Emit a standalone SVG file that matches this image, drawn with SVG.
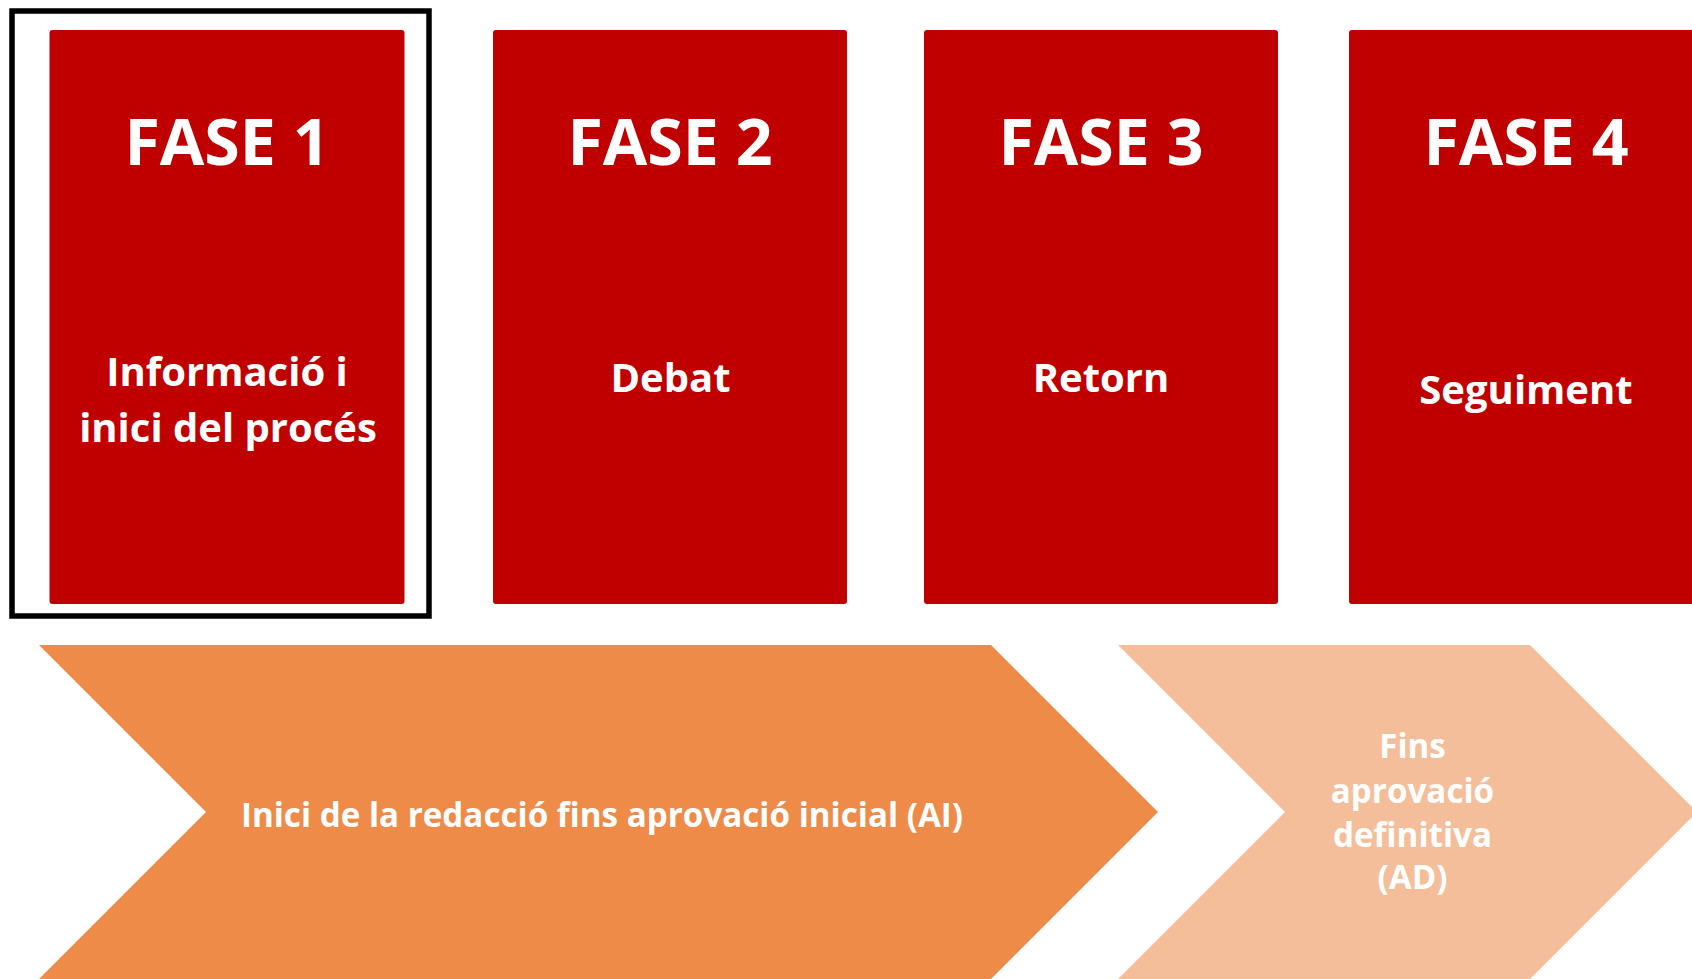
<svg xmlns="http://www.w3.org/2000/svg" width="1692" height="979" viewBox="0 0 1692 979">
  <style>
    .phase { fill: #C00000; }
    .t { font-family: "Open Sans", Lato, "Liberation Sans", sans-serif; font-weight: bold; fill: #FFFFFF; text-anchor: middle; }
    .big { font-size: 64.5px; }
    .sub { font-size: 40px; }
    .arr { font-size: 33.2px; }
  </style>
  <rect width="1692" height="979" fill="#FFFFFF"/>

  <g id="frame-fase1">
    <rect x="12" y="11" width="417" height="605" fill="none" stroke="#000000" stroke-width="5.5"/>
  </g>

  <g id="fase1">
    <rect class="phase" x="49.5" y="30" width="355" height="574" rx="3"/>
    <text class="t big" x="227" y="165">FASE 1</text>
    <text class="t sub" x="227" y="385.7">Informació i</text>
    <text class="t sub" x="228" y="442.3">inici del procés</text>
  </g>

  <g id="fase2">
    <rect class="phase" x="493" y="30" width="354" height="574" rx="3"/>
    <text class="t big" x="670" y="165">FASE 2</text>
    <text class="t sub" x="670.5" y="392.3">Debat</text>
  </g>

  <g id="fase3">
    <rect class="phase" x="924" y="30" width="354" height="574" rx="3"/>
    <text class="t big" x="1101" y="165">FASE 3</text>
    <text class="t sub" x="1101" y="392.3">Retorn</text>
  </g>

  <g id="fase4">
    <rect class="phase" x="1349" y="30" width="354" height="574" rx="3"/>
    <text class="t big" x="1526" y="165">FASE 4</text>
    <text class="t sub" x="1526" y="404">Seguiment</text>
  </g>

  <g id="chevron-ai">
    <polygon points="39,645 991,645 1158,812 991,979 39,979 206,812" fill="#EF8B48"/>
    <text class="t arr" x="602" y="827">Inici de la redacció fins aprovació inicial (AI)</text>
  </g>

  <g id="chevron-ad">
    <polygon points="1118,645 1530,645 1697,812 1530,979 1118,979 1285,812" fill="#F5BE9A"/>
    <text class="t arr" x="1412.5" y="758.3">Fins</text>
    <text class="t arr" x="1412.5" y="802.7">aprovació</text>
    <text class="t arr" x="1412.5" y="846.7">definitiva</text>
    <text class="t arr" x="1412.5" y="889">(AD)</text>
  </g>

  <g id="connectors"></g>
</svg>
